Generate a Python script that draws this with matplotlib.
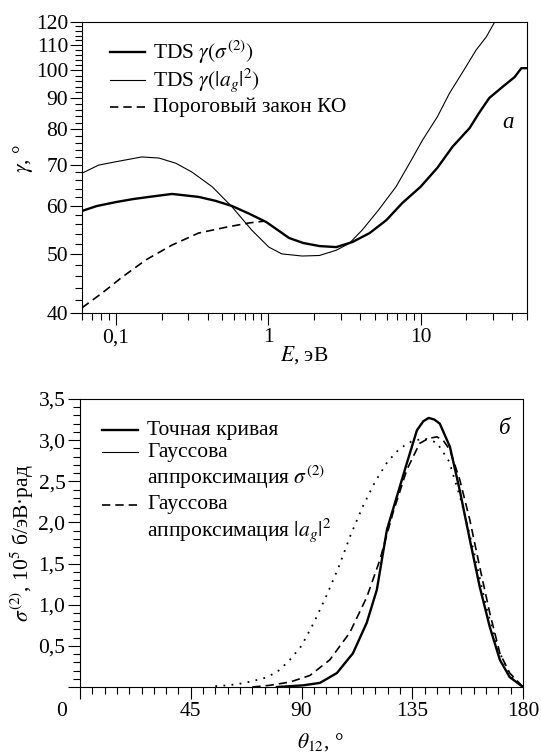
import matplotlib
matplotlib.use("Agg")
import matplotlib.pyplot as plt
from matplotlib.ticker import FixedLocator, FixedFormatter, NullFormatter
from matplotlib.lines import Line2D
from matplotlib.transforms import ScaledTranslation

plt.rcParams['font.family'] = ['Liberation Serif', 'DejaVu Serif']
plt.rcParams['mathtext.fontset'] = 'stix'

# ---- panel (a): ejection angle gamma vs energy ----
energy_sigma = [0.06, 0.075, 0.1, 0.13, 0.165, 0.234, 0.35, 0.45, 0.58, 0.75, 0.97,
                1.17, 1.37, 1.7, 2.17, 2.8, 3.58, 4.64, 5.97, 7.6, 10, 12.9, 16.2,
                21, 24.2, 28.3, 34.5, 41.5, 45.9, 50]
gamma_sigma = [58.8, 59.9, 60.8, 61.5, 62.0, 62.7, 62.0, 61.1, 59.9, 58.2, 56.4,
               54.6, 53.1, 52.1, 51.5, 51.3, 52.3, 54.1, 56.8, 60.6, 64.4, 69.2, 74.9,
               80.4, 85.1, 90.1, 93.9, 97.5, 100.8, 100.8]

energy_ag = [0.06, 0.077, 0.1, 0.148, 0.192, 0.248, 0.316, 0.43, 0.58, 0.78, 1.01,
             1.23, 1.67, 2.17, 2.8, 3.4, 4.14, 5.3, 6.9, 8.5, 10.3, 12.9, 15.5,
             18.9, 23.2, 27, 30.4, 32]
gamma_ag = [67.8, 69.9, 70.8, 72.1, 71.8, 70.4, 68.1, 64.4, 59.7, 54.7, 51.3,
            50.0, 49.6, 49.7, 50.7, 52.0, 54.7, 59.0, 64.4, 70.5, 76.8, 83.9, 91.7,
            99.3, 108, 113.4, 119.5, 123]

energy_ko = [0.06, 0.081, 0.11, 0.158, 0.234, 0.35, 0.53, 0.75, 0.95]
gamma_ko = [40.8, 43.1, 45.8, 48.9, 51.7, 54.1, 55.3, 56.2, 56.6]

gamma_major = [40, 50, 60, 70, 80, 90, 100, 110, 120]
gamma_minor = list(range(40, 121, 2))
energy_major = [0.1, 1, 10]
energy_major_labels = ['0,1', '1', '10']
energy_minor = [0.06, 0.07, 0.08, 0.09, 0.2, 0.3, 0.4, 0.5, 0.6, 0.7, 0.8, 0.9,
                2, 3, 4, 5, 6, 7, 8, 9, 20, 30, 40, 50]

# ---- panel (б): angular distribution ----
theta_exact = [80, 90.6, 97.5, 104.4, 110.9, 116.5, 120.6, 124.7, 128.7, 132.8, 136.9,
               139.5, 141.7, 144, 146.2, 150.3, 154.3, 158.4, 162.4, 166.5, 170.6,
               174.6, 180]
sigma_exact = [0.0, 0.02, 0.05, 0.17, 0.41, 0.78, 1.18, 1.91, 2.31, 2.72, 3.12,
               3.23, 3.27, 3.25, 3.2, 2.92, 2.39, 1.79, 1.22, 0.73, 0.33,
               0.12, 0.0]

theta_gauss_ag = [70, 77, 85.3, 93.4, 101.5, 109.6, 116.5, 121.8, 127.1, 132.8, 138,
                  141.5, 145, 147.5, 150.3, 154.3, 158.4, 162.4, 166.5, 170.6, 174.6, 180]
sigma_gauss_ag = [0.0, 0.02, 0.06, 0.14, 0.33, 0.66, 1.09, 1.54, 2.11, 2.64, 2.96,
                  3.02, 3.04, 3.0, 2.88, 2.52, 2.03, 1.46, 0.9, 0.41, 0.17, 0.0]

theta_gauss_sigma = [55, 60, 65, 70, 75, 80, 85, 90, 95, 100, 105, 110, 115, 120, 125,
                     130, 135, 140, 145, 150, 155, 160, 165, 170, 175, 180]
sigma_gauss_sigma = [0.01, 0.02, 0.04, 0.07, 0.11, 0.18, 0.32, 0.5, 0.78, 1.1, 1.45,
                     1.85, 2.2, 2.5, 2.74, 2.9, 2.99, 3.02, 2.97, 2.74, 2.25, 1.65,
                     0.98, 0.45, 0.13, 0.0]

theta_major = [0, 45, 90, 135, 180]
theta_minor = list(range(0, 181, 5))
sigma_major = [0, 0.5, 1.0, 1.5, 2.0, 2.5, 3.0, 3.5]
sigma_major_labels = ['', '0,5', '1,0', '1,5', '2,0', '2,5', '3,0', '3,5']
sigma_minor = [i / 10 for i in range(0, 36)]

W, H = 541, 755
fig = plt.figure(figsize=(W / 100, H / 100), dpi=100)

FS = 15.5
THICK, THIN, DASH = 1.7, 0.8, 1.2


def px(x, y):
    return x / W, 1 - y / H


def style_axes(ax):
    for s in ax.spines.values():
        s.set_linewidth(0.8)
    ax.tick_params(which='both', direction='out', top=False, right=False,
                   width=0.8, labelsize=FS)
    ax.tick_params(which='major', length=8.5)
    ax.tick_params(which='minor', length=5)


# ---------------- top panel ----------------
L1, R1, T1, B1 = 82, 527, 22, 313
ax1 = fig.add_axes([L1 / W, 1 - B1 / H, (R1 - L1) / W, (B1 - T1) / H])
ax1.set_xscale('log')
ax1.set_yscale('log')
ax1.plot(energy_sigma, gamma_sigma, color='black', lw=THICK)
ax1.plot(energy_ag, gamma_ag, color='black', lw=THIN)
ax1.plot(energy_ko, gamma_ko, color='black', lw=DASH, linestyle=(0, (5, 3)))
ax1.set_xlim(0.06, 50)
ax1.set_ylim(40, 120)

ax1.yaxis.set_major_locator(FixedLocator(gamma_major))
ax1.yaxis.set_major_formatter(FixedFormatter([str(v) for v in gamma_major]))
ax1.yaxis.set_minor_locator(FixedLocator(gamma_minor))
ax1.yaxis.set_minor_formatter(NullFormatter())
ax1.xaxis.set_major_locator(FixedLocator(energy_major))
ax1.xaxis.set_major_formatter(FixedFormatter(energy_major_labels))
ax1.xaxis.set_minor_locator(FixedLocator(energy_minor))
ax1.xaxis.set_minor_formatter(NullFormatter())
style_axes(ax1)
ax1.tick_params(axis='y', which='major', pad=1.5)
ax1.tick_params(axis='x', which='major', pad=2.5)

ax1.set_xlabel(r'$E$, эВ', fontsize=FS)
ax1.xaxis.set_label_coords(0.5, -(344 - B1) / (B1 - T1))
ax1.set_ylabel(r'$\gamma$, °', fontsize=FS)
ax1.yaxis.set_label_coords(-(L1 - 35) / (R1 - L1), (B1 - 158) / (B1 - T1))

legend_top = [
    (52, dict(lw=THICK, ls='-'), r'TDS $\gamma(\sigma^{(2)})$'),
    (80, dict(lw=THIN, ls='-'), r'TDS $\gamma(|a_g|^2)$'),
    (107, dict(lw=DASH, ls=(0, (5, 3))), 'Пороговый закон КО'),
]
for yy, kw, txt in legend_top:
    x0, y0 = px(110, yy)
    x1, _ = px(145, yy)
    fig.add_artist(Line2D([x0, x1], [y0, y0], color='black',
                          transform=fig.transFigure, **kw))
    xt, yt = px(153, yy)
    fig.text(xt, yt, txt, fontsize=FS, va='center', ha='left')

xa, ya = px(508, 122)
fig.text(xa, ya, 'а', fontsize=FS + 1, style='italic', ha='center', va='center')

# ---------------- bottom panel ----------------
L2, R2, T2, B2 = 80, 523, 399, 687
ax2 = fig.add_axes([L2 / W, 1 - B2 / H, (R2 - L2) / W, (B2 - T2) / H])
ax2.plot(theta_exact, sigma_exact, color='black', lw=THICK)
ax2.plot(theta_gauss_ag, sigma_gauss_ag, color='black', lw=DASH, linestyle=(0, (5, 3)))
ax2.plot(theta_gauss_sigma, sigma_gauss_sigma, color='black', lw=1.3,
         linestyle=(0, (1, 3.5)))
ax2.set_xlim(0, 180)
ax2.set_ylim(0, 3.5)

ax2.xaxis.set_major_locator(FixedLocator(theta_major))
ax2.xaxis.set_major_formatter(FixedFormatter([str(v) for v in theta_major]))
ax2.xaxis.set_minor_locator(FixedLocator(theta_minor))
ax2.xaxis.set_minor_formatter(NullFormatter())
ax2.yaxis.set_major_locator(FixedLocator(sigma_major))
ax2.yaxis.set_major_formatter(FixedFormatter(sigma_major_labels))
ax2.yaxis.set_minor_locator(FixedLocator(sigma_minor))
ax2.yaxis.set_minor_formatter(NullFormatter())
style_axes(ax2)
ax2.tick_params(axis='y', which='major', pad=2)
ax2.tick_params(axis='x', which='major', pad=2.5)

fig.canvas.draw()
zero_label = ax2.get_xticklabels()[0]
zero_label.set_transform(zero_label.get_transform()
                         + ScaledTranslation(-18 / 100, 0, fig.dpi_scale_trans))

ax2.set_xlabel(r'$\theta_{12}$, °', fontsize=FS)
ax2.xaxis.set_label_coords((320 - L2) / (R2 - L2), -(731 - B2) / (B2 - T2))
ax2.set_ylabel(r'$\sigma^{(2)}$, 10$^5$ б/эВ·рад', fontsize=FS)
ax2.yaxis.set_label_coords(-(L2 - 36) / (R2 - L2), 0.5)

legend_bottom = [
    (430, dict(lw=THICK, ls='-'), ['Точная кривая']),
    (452, dict(lw=THIN, ls='-'), ['Гауссова', r'аппроксимация $\sigma^{(2)}$']),
    (505, dict(lw=DASH, ls=(0, (5, 3))), ['Гауссова', r'аппроксимация $|a_g|^2$']),
]
for yy, kw, lines in legend_bottom:
    x0, y0 = px(102, yy)
    x1, _ = px(138, yy)
    fig.add_artist(Line2D([x0, x1], [y0, y0], color='black',
                          transform=fig.transFigure, **kw))
    for k, txt in enumerate(lines):
        xt, yt = px(147, yy + 25 * k)
        fig.text(xt, yt, txt, fontsize=FS, va='center', ha='left')

xb, yb = px(505, 428)
fig.text(xb, yb, 'б', fontsize=FS + 1, style='italic', ha='center', va='center')

fig.savefig('out.png', dpi=100)
